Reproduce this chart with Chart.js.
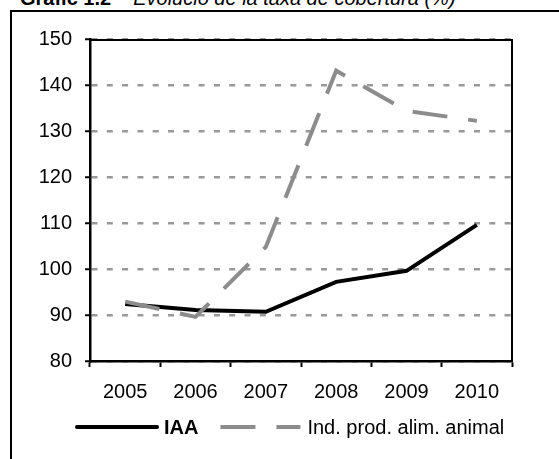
<!DOCTYPE html>
<html>
<head>
<meta charset="utf-8">
<script src="https://cdn.jsdelivr.net/npm/chart.js@4.4.0/dist/chart.umd.min.js"></script>
<style>
  html, body { margin: 0; padding: 0; background: #fff; }
  #wrap { position: relative; width: 559px; height: 459px; overflow: hidden; }
  #frame { position: absolute; left: 10px; top: 10px; width: 620px; height: 520px;
           border-left: 2px solid #000; border-top: 2px solid #000; }
  #title { position: absolute; left: 20px; top: -12px; white-space: nowrap; color: #000;
           font: 20px/20px 'Liberation Sans', Arial, sans-serif; }
  #title b { margin-right: 22px; }
  canvas { position: absolute; left: 0; top: 0; }
</style>
</head>
<body>
<div id="wrap">
  <div id="frame"></div>
  <div id="title"><b>Gràfic 1.2</b><i>Evolució de la taxa de cobertura (%)</i></div>
  <canvas id="chart" width="559" height="459"></canvas>
</div>
<script>
// Data
const years = ['2005', '2006', '2007', '2008', '2009', '2010'];
const iaa = [92.4, 91.1, 90.7, 97.2, 99.6, 109.6];
const indAlimAnimal = [92.9, 89.6, 104.8, 143.1, 134.4, 132.2];
const seriesNames = ['IAA', 'Ind. prod. alim. animal'];
const yMin = 80;
const yMax = 150;
const yStep = 10;

const FONT = "'Liberation Sans', Arial, sans-serif";
Chart.defaults.font.family = FONT;
Chart.defaults.color = '#000';

// Black box round the plot area (top and right sides)
const framePlugin = {
    id: 'plotFrame',
    afterDatasetsDraw(chart) {
        const { ctx, chartArea: a } = chart;
        ctx.save();
        ctx.strokeStyle = '#000';
        ctx.lineWidth = 2;
        ctx.beginPath();
        ctx.moveTo(a.left, a.top + 1);
        ctx.lineTo(a.right, a.top + 1);
        ctx.lineTo(a.right, a.bottom);
        ctx.stroke();
        ctx.restore();
    }
};

// Legend under the x axis: IAA in bold, the other in regular weight
const legendPlugin = {
    id: 'bottomLegend',
    afterDraw(chart) {
        const ctx = chart.ctx;
        const y = 427;
        const lineLen = 80;
        let x = 77;
        const items = [
            { ds: chart.data.datasets[1], bold: true, cap: 'round' },
            { ds: chart.data.datasets[0], bold: false, cap: 'butt' }
        ];
        items.forEach((item) => {
            ctx.save();
            ctx.strokeStyle = item.ds.borderColor;
            ctx.lineWidth = item.ds.borderWidth;
            ctx.lineCap = item.cap;
            ctx.setLineDash(item.ds.borderDash || []);
            ctx.beginPath();
            ctx.moveTo(x, y);
            ctx.lineTo(x + lineLen, y);
            ctx.stroke();
            ctx.restore();
            x += lineLen + 7;
            ctx.save();
            ctx.font = (item.bold ? 'bold ' : '') + '20px ' + FONT;
            ctx.fillStyle = '#000';
            ctx.textBaseline = 'middle';
            ctx.fillText(item.ds.label, x, y + 1);
            x += ctx.measureText(item.ds.label).width + 22;
            ctx.restore();
        });
    }
};

new Chart(document.getElementById('chart'), {
    type: 'line',
    data: {
        labels: years,
        datasets: [
            {
                label: seriesNames[1],
                data: indAlimAnimal,
                borderColor: '#8c8c8c',
                borderWidth: 4,
                borderDash: [35, 21],
                pointRadius: 0,
                tension: 0,
                order: 0
            },
            {
                label: seriesNames[0],
                data: iaa,
                borderColor: '#000',
                borderWidth: 4,
                pointRadius: 0,
                tension: 0,
                order: 1
            }
        ]
    },
    options: {
        responsive: false,
        animation: false,
        devicePixelRatio: 1,
        layout: { padding: { top: 39, right: 47, bottom: 0, left: 0 } },
        plugins: {
            legend: { display: false },
            tooltip: { enabled: false }
        },
        scales: {
            x: {
                offset: true,
                grid: {
                    offset: true,
                    drawOnChartArea: false,
                    tickLength: 6,
                    tickColor: '#000',
                    tickWidth: 2
                },
                border: { color: '#000', width: 2.5 },
                ticks: { color: '#000', font: { size: 20 }, padding: 13, maxRotation: 0 },
                afterFit: (scale) => { scale.height = 98; }
            },
            y: {
                min: yMin,
                max: yMax,
                ticks: { stepSize: yStep, color: '#000', font: { size: 20 }, padding: 13 },
                grid: {
                    color: '#999',
                    lineWidth: 2.5,
                    tickLength: 5,
                    tickColor: '#000',
                    tickWidth: 2
                },
                border: { color: '#000', width: 2.5, dash: [6, 9.3] },
                afterFit: (scale) => { scale.width = 90; }
            }
        }
    },
    plugins: [framePlugin, legendPlugin]
});
</script>
</body>
</html>
